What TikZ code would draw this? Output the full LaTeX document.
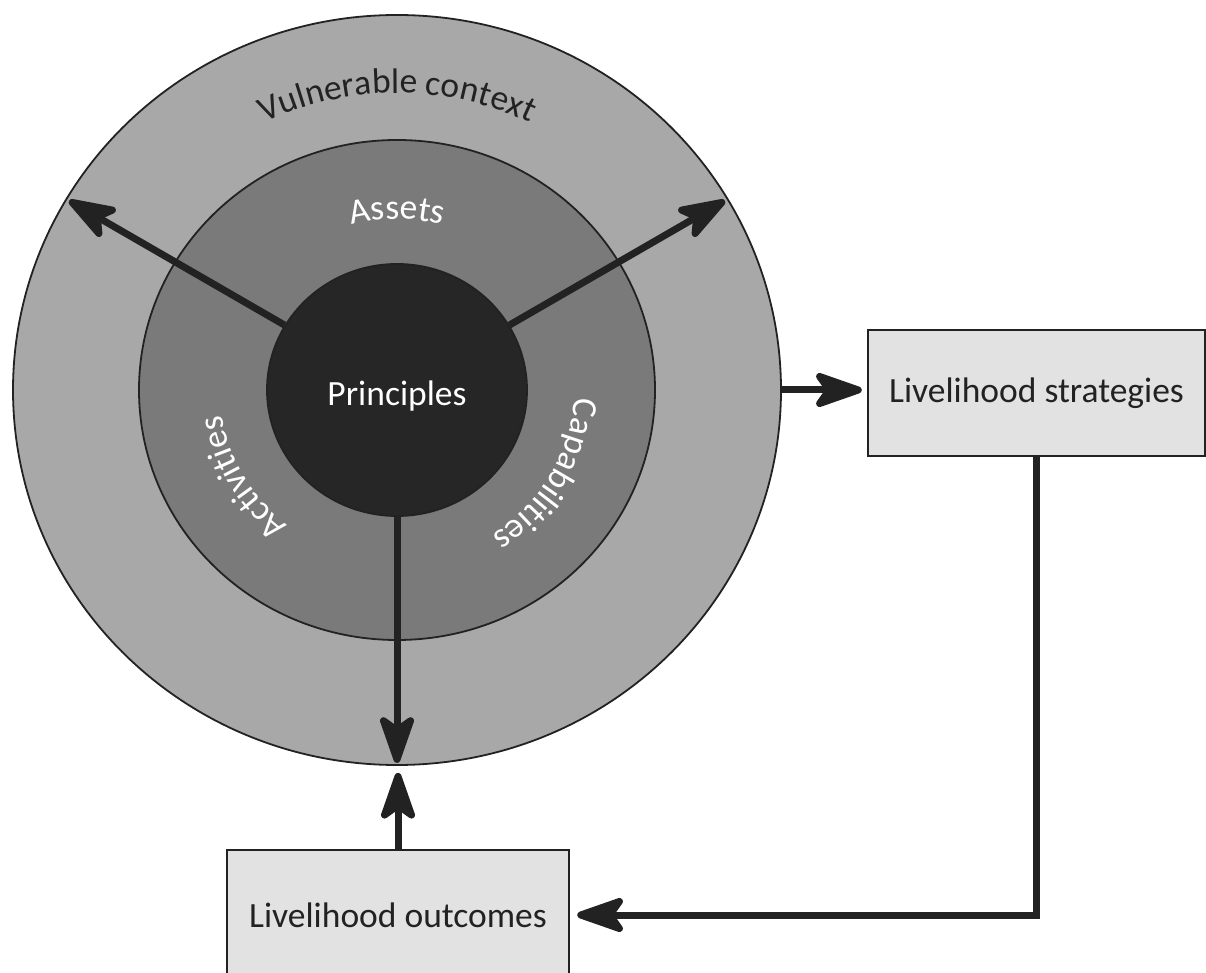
\documentclass[tikz,border=0pt]{standalone}
\usepackage{fontspec}
\setmainfont{Carlito}
\usetikzlibrary{arrows.meta,shapes.geometric,decorations.text,calc}
\definecolor{ringout}{HTML}{A8A8A8}
\definecolor{ringmid}{HTML}{7A7A7A}
\definecolor{core}{HTML}{262626}
\definecolor{boxfill}{HTML}{E2E2E2}
\definecolor{ink}{HTML}{222222}
\newcommand{\ringfont}{\fontsize{35.5}{42}\selectfont}

\begin{document}
\begin{tikzpicture}[x=1pt,y=1pt,
  ring/.style={ellipse, draw=ink, line width=1.8pt, inner sep=0pt},
  lbox/.style={rectangle, draw=ink, line width=2.5pt, fill=boxfill, inner sep=0pt,
               font=\ringfont, text=ink},
  flow/.style={draw=ink, line width=7pt,
               -{Stealth[length=58pt,width=40pt,inset=14pt,round]}},
]
\useasboundingbox (0,0) rectangle (1206,972);
\clip (0,0) rectangle (1206,972);

% concentric rings
\coordinate (c) at (397,582);
\node[ring, fill=ringout, minimum width=768pt, minimum height=750pt] (outer) at (c) {};
\node[ring, fill=ringmid, minimum width=516pt, minimum height=500pt] (middle) at (c) {};
\node[ring, fill=core, minimum width=260pt, minimum height=252pt] (core) at (c) {};
\node[text=white, font=\ringfont, inner sep=0pt] (corelabel) at ([yshift=-6pt]core.center) {Principles};

% boxes
\node[lbox, minimum width=337pt, minimum height=126pt] (strat) at (1036.5,579) {Livelihood strategies};
\node[lbox, minimum width=342pt, minimum height=130pt] (outc) at (398,57) {Livelihood outcomes};

% curved labels
\path[decorate, decoration={text along path, text align=center, text color=ink,
      text={|\ringfont|Vulnerable context}}]
  ($(c)+(120:304 and 297)$) arc[start angle=120, end angle=60, x radius=304, y radius=297];
\path[decorate, decoration={text along path, text align=center, text color=white,
      text={|\ringfont|Assets}}]
  ($(c)+(120:177 and 171)$) arc[start angle=120, end angle=60, x radius=177, y radius=171];
\path[decorate, decoration={text along path, text align=center, text color=white,
      text={|\ringfont|Activities}}]
  ($(c)+(250:177 and 171)$) arc[start angle=250, end angle=170, x radius=177, y radius=171];
\path[decorate, decoration={text along path, text align=center, text color=white,
      text={|\ringfont|Capabilities}}]
  ($(c)+(10:177 and 171)$) arc[start angle=10, end angle=-70, x radius=177, y radius=171];

% arrows out of the core
\draw[flow, shorten >=4pt] (core.30) -- (outer.30);
\draw[flow, shorten >=4pt] (core.150) -- (outer.150);
\draw[flow, shorten >=3pt] (core.south) -- (outer.south);

% flow between rings and boxes
\draw[flow, shorten >=5pt] (outer.east) -- (outer.east -| strat.west);
\draw[flow, shorten >=7pt] (strat.south) |- (outc.east);
\draw[flow, shorten >=7pt] (outc.north) -- (outc.north |- outer.south);
\end{tikzpicture}
\end{document}
